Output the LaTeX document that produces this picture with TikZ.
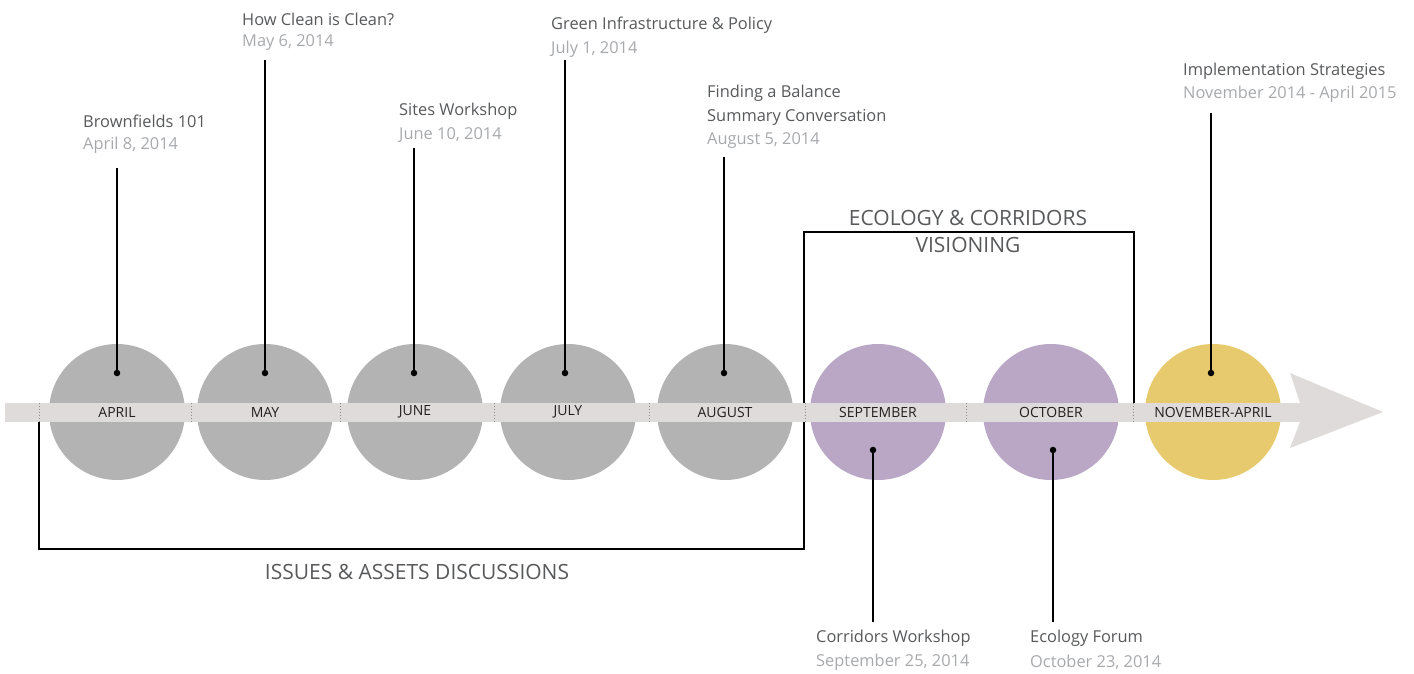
\documentclass[tikz,border=0pt]{standalone}
\usepackage{fontspec}
\setmainfont{Open Sans}
\definecolor{bandc}{HTML}{DEDBDA}
\definecolor{greyc}{HTML}{B3B3B3}
\definecolor{purpc}{HTML}{B9A7C5}
\definecolor{yelc}{HTML}{E8CA6E}
\definecolor{titlec}{HTML}{58595B}
\definecolor{datec}{HTML}{A7A9AC}
\definecolor{monthc}{HTML}{231F20}
\definecolor{sepc}{HTML}{8A8A8A}
\begin{document}
\begin{tikzpicture}[x=1pt,y=-1pt,
  title/.style={anchor=west,text=titlec,font=\fontsize{16.4}{19}\selectfont,inner sep=0pt},
  datet/.style={anchor=west,text=datec,font=\fontsize{16.4}{19}\selectfont,inner sep=0pt},
  head/.style={text=titlec,font=\fontsize{21}{24}\selectfont,inner sep=0pt},
  month/.style={text=monthc,font=\fontsize{14}{16}\selectfont,inner sep=0pt},
  bubble/.style={circle,minimum size=136pt,inner sep=0pt},
  stem/.style={draw=black,line width=1.2pt},
  dotn/.style={circle,fill=black,minimum size=6.5pt,inner sep=0pt},
  sepline/.style={draw=sepc,dotted,line width=1pt},
  bracket/.style={draw=black,line width=1.2pt}]
\useasboundingbox (0,0) rectangle (1414,673);
% bubbles
\node[bubble,fill=greyc] (capr) at (117,412) {};
\node[bubble,fill=greyc] (cmay) at (265,412) {};
\node[bubble,fill=greyc] (cjun) at (415,412) {};
\node[bubble,fill=greyc] (cjul) at (568,412) {};
\node[bubble,fill=greyc] (caug) at (725,412) {};
\node[bubble,fill=purpc] (csep) at (878,412) {};
\node[bubble,fill=purpc] (coct) at (1051,412) {};
\node[bubble,fill=yelc] (cnov) at (1213,412) {};
% band and arrowhead
\fill[bandc] (5,403) rectangle (1301,422);
\fill[bandc] (1300,403) -- (1290,373) -- (1383,412) -- (1290,448) -- (1300,422) -- cycle;
% separators
\foreach \x in {39,191,340,494,649,805,966,1133}
  \draw[sepline] (\x,403) -- (\x,422);
% month labels
\node[month] (lapr) at (117,412) {APRIL};
\node[month] (lmay) at (265,412) {MAY};
\node[month] (ljun) at (415,412) {JUNE};
\node[month] (ljul) at (568,412) {JULY};
\node[month] (laug) at (725,412) {AUGUST};
\node[month] (lsep) at (878,412) {SEPTEMBER};
\node[month] (loct) at (1051,412) {OCTOBER};
\node[month] (lnov) at (1213,412) {NOVEMBER-APRIL};
% brackets
\draw[bracket] (39,422) -- (39,549) -- (804,549) -- (804,422);
\draw[bracket] (804,403) -- (804,232) -- (1134,232) -- (1134,403);
\node[head] (issues) at (417,572) {ISSUES \& ASSETS DISCUSSIONS};
\node[head] (eco1) at (968,218) {ECOLOGY \& CORRIDORS};
\node[head] (eco2) at (968,245) {VISIONING};
% events top
\node[title] (t1) at (83,121) {Brownfields 101};
\node[datet] (d1) at (83,145) {April 8, 2014};
\node[dotn] (p1) at (117,373) {};
\coordinate (s1) at (117,168);
\draw[stem] (s1) -- (p1);

\node[title] (t2) at (242,19) {How Clean is Clean?};
\node[datet] (d2) at (242,43) {May 6, 2014};
\node[dotn] (p2) at (265,373) {};
\coordinate (s2) at (265,60);
\draw[stem] (s2) -- (p2);

\node[title] (t3) at (399,111) {Sites Workshop};
\node[datet] (d3) at (399,135) {June 10, 2014};
\node[dotn] (p3) at (414,373) {};
\coordinate (s3) at (414,148);
\draw[stem] (s3) -- (p3);

\node[title] (t4) at (551,25) {Green Infrastructure \& Policy};
\node[datet] (d4) at (551,49) {July 1, 2014};
\node[dotn] (p4) at (565,373) {};
\coordinate (s4) at (565,60);
\draw[stem] (s4) -- (p4);

\node[title] (t5a) at (707,93) {Finding a Balance};
\node[title] (t5b) at (707,117) {Summary Conversation};
\node[datet] (d5) at (707,141) {August 5, 2014};
\node[dotn] (p5) at (724,373) {};
\coordinate (s5) at (724,157);
\draw[stem] (s5) -- (p5);

\node[title] (t8) at (1183,71) {Implementation Strategies};
\node[datet] (d8) at (1183,94) {November 2014 - April 2015};
\node[dotn] (p8) at (1211,373) {};
\coordinate (s8) at (1211,113);
\draw[stem] (s8) -- (p8);
% events bottom
\node[dotn] (p6) at (873,450) {};
\coordinate (s6) at (873,622);
\draw[stem] (p6) -- (s6);
\node[title] (t6) at (816,638) {Corridors Workshop};
\node[datet] (d6) at (816,662) {September 25, 2014};

\node[dotn] (p7) at (1053,450) {};
\coordinate (s7) at (1053,622);
\draw[stem] (p7) -- (s7);
\node[title] (t7) at (1030,638) {Ecology Forum};
\node[datet] (d7) at (1030,662) {October 23, 2014};
\end{tikzpicture}
\end{document}
